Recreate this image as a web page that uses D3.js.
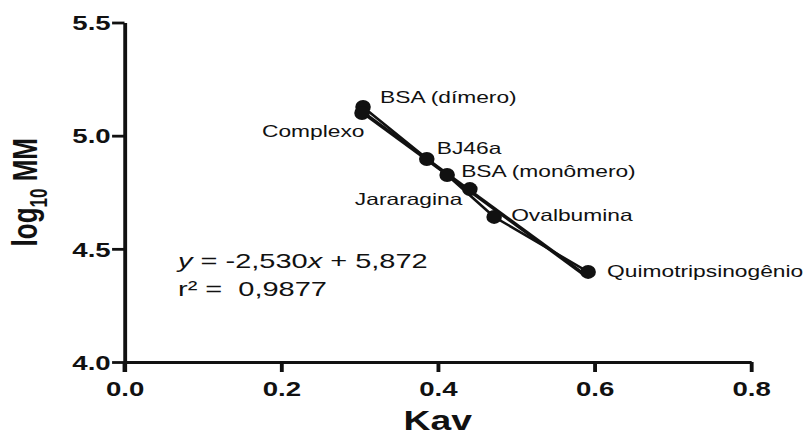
<!DOCTYPE html>
<html>
<head>
<meta charset="utf-8">
<script src="https://cdn.jsdelivr.net/npm/d3@7"></script>
<style>
  html, body { margin: 0; padding: 0; background: #fff; }
  svg { display: block; }
  text { font-family: "Liberation Sans", Arial, sans-serif; fill: #111; }
</style>
</head>
<body>
<svg id="svg"></svg>
<script>
// the original figure is stretched sideways, so the whole svg is too
var S = 1.38;
var W = 806, H = 438;

// standards (connected line) and samples
var standards = ["BSA (dímero)", "BSA (monômero)", "Ovalbumina", "Quimotripsinogênio"];
var standardKav = [0.3046, 0.412, 0.472, 0.592];
var standardLog = [5.127, 4.826, 4.641, 4.398];

var samples = ["Complexo", "BJ46a", "Jararagina"];
var sampleKav = [0.3033, 0.386, 0.441];
var sampleLog = [5.100, 4.897, 4.764];

var slope = -2.530, intercept = 5.872;
var fitRange = [0.3033, 0.588];
var eqText = ["-2,530", "5,872"];
var r2Text = "0,9877";

var xTicks = [0.0, 0.2, 0.4, 0.6, 0.8];
var yTicks = [4.0, 4.5, 5.0, 5.5];

var svg = d3.select("#svg")
    .attr("width", W)
    .attr("height", H)
    .attr("viewBox", "0 0 " + (W / S) + " " + H)
    .attr("preserveAspectRatio", "none");

var x = d3.scaleLinear().domain([0, 0.8]).range([124.5 / S, 751 / S]);
var y = d3.scaleLinear().domain([4.0, 5.5]).range([362, 22.5]);

var xAxis = svg.append("g")
    .attr("transform", "translate(0," + y(4.0) + ")")
    .call(d3.axisBottom(x).tickValues(xTicks).tickFormat(d3.format(".1f")).tickSize(10).tickSizeOuter(0));

var yAxis = svg.append("g")
    .attr("transform", "translate(" + x(0) + ",0)")
    .call(d3.axisLeft(y).tickValues(yTicks).tickFormat(d3.format(".1f")).tickSize(9).tickSizeOuter(0));

[xAxis, yAxis].forEach(function (a) {
    a.selectAll("path, line").attr("stroke", "#111").attr("stroke-width", 2.8);
    a.selectAll("text")
        .style("font-family", "'Liberation Sans', Arial, sans-serif")
        .style("font-weight", "bold")
        .style("font-size", "20px")
        .attr("fill", "#111");
});
xAxis.selectAll("text").attr("dy", "1.05em");
yAxis.selectAll("text").attr("dy", "0.36em").attr("x", -10);
// y axis runs a bit below the origin, as in the original
yAxis.append("line")
    .attr("x1", 0).attr("x2", 0)
    .attr("y1", y(4.0)).attr("y2", y(4.0) + 10)
    .attr("stroke", "#111").attr("stroke-width", 2.8);

svg.append("text")
    .attr("x", x(0.4))
    .attr("y", 430)
    .attr("text-anchor", "middle")
    .style("font-weight", "bold")
    .style("font-size", "27px")
    .text("Kav");

var ylab = svg.append("text")
    .attr("transform", "translate(" + (37 / S) + "," + y(4.75) + ") rotate(-90)")
    .attr("text-anchor", "middle")
    .style("font-weight", "bold")
    .style("font-size", "26px");
ylab.append("tspan").text("log");
ylab.append("tspan").attr("dy", 7).style("font-size", "17px").text("10");
ylab.append("tspan").attr("dy", -7).text(" MM");

// regression line
svg.append("line")
    .attr("x1", x(fitRange[0])).attr("y1", y(slope * fitRange[0] + intercept))
    .attr("x2", x(fitRange[1])).attr("y2", y(slope * fitRange[1] + intercept))
    .attr("stroke", "#111").attr("stroke-width", 3.2);

// connected standards
var stdPts = standardKav.map(function (k, i) { return [k, standardLog[i]]; });
svg.append("path")
    .datum(stdPts)
    .attr("fill", "none")
    .attr("stroke", "#111")
    .attr("stroke-width", 2.2)
    .attr("d", d3.line().x(function (d) { return x(d[0]); }).y(function (d) { return y(d[1]); }));

var allPts = stdPts.concat(sampleKav.map(function (k, i) { return [k, sampleLog[i]]; }));
svg.append("g").selectAll("ellipse")
    .data(allPts)
    .enter()
    .append("ellipse")
    .attr("cx", function (d) { return x(d[0]); })
    .attr("cy", function (d) { return y(d[1]); })
    .attr("rx", 7.4 / S * 1.05)
    .attr("ry", 7)
    .attr("fill", "#111");

// label offsets: [dx, dy, anchor]
var stdLabelPos = [[17, -4, "start"], [14, 2, "start"], [17, 4, "start"], [19, 5, "start"]];
var sampleLabelPos = [[-100, 24, "start"], [10, -5, "start"], [-115, 16, "start"]];

function addLabels(names, kav, logs, pos) {
    svg.append("g").selectAll("text")
        .data(names)
        .enter()
        .append("text")
        .attr("x", function (d, i) { return x(kav[i]) + pos[i][0] / S; })
        .attr("y", function (d, i) { return y(logs[i]) + pos[i][1]; })
        .attr("text-anchor", function (d, i) { return pos[i][2]; })
        .style("font-size", "16.5px")
        .text(function (d) { return d; });
}
addLabels(standards, standardKav, standardLog, stdLabelPos);
addLabels(samples, sampleKav, sampleLog, sampleLabelPos);

// equation
var eq = svg.append("text")
    .attr("x", 178 / S)
    .attr("y", 268)
    .style("font-size", "21px");
eq.append("tspan").style("font-style", "italic").text("y");
eq.append("tspan").text(" = " + eqText[0]);
eq.append("tspan").style("font-style", "italic").text("x");
eq.append("tspan").text(" + " + eqText[1]);

svg.append("text")
    .attr("x", 178 / S)
    .attr("y", 296)
    .style("font-size", "21px")
    .style("white-space", "pre")
    .text("r\u00b2 =  " + r2Text);
</script>
</body>
</html>
